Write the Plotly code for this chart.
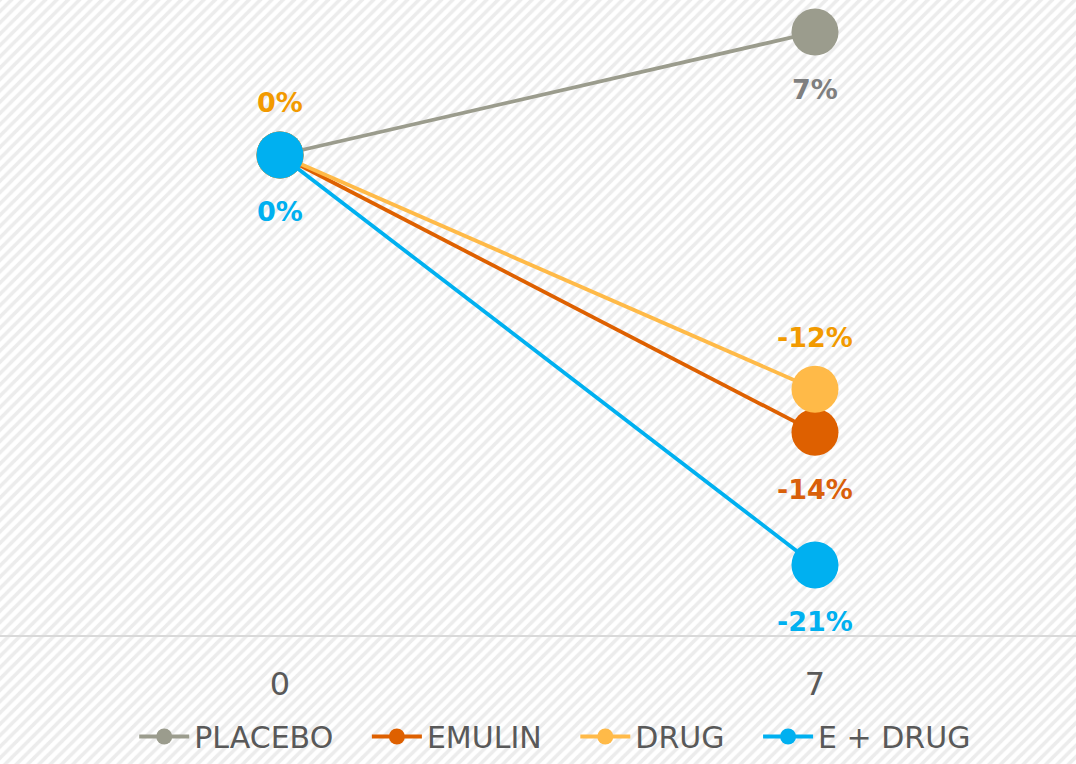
import plotly.graph_objects as go

categories = ["0", "7"]
series_names = ["PLACEBO", "EMULIN", "DRUG", "E + DRUG"]
placebo = [0.0, 0.063]
emulin = [0.0, -0.142]
drug = [0.0, -0.12]
e_drug = [0.0, -0.21]
placebo_labels = ["", "7%"]
emulin_labels = ["", "-14%"]
drug_labels = ["0%", "-12%"]
e_drug_labels = ["0%", "-21%"]

values = [placebo, emulin, drug, e_drug]
labels = [placebo_labels, emulin_labels, drug_labels, e_drug_labels]
line_colors = ["#9B9C8D", "#DE6000", "#FFBA48", "#00B0F0"]
label_colors = ["#7F7F7F", "#D9600A", "#F29A00", "#00B0F0"]
# label above (+) or below (-) per series, per point
label_side = [[-1, -1], [-1, -1], [1, 1], [-1, -1]]

NBSP = "\u00a0"

fig = go.Figure()

# hatched background covering the whole page
fig.add_trace(go.Scatter(
    x=[0, 1, 1, 0, 0], y=[0, 0, 1, 1, 0], mode="lines", fill="toself",
    line=dict(width=0, color="rgba(0,0,0,0)"),
    fillcolor="white",
    fillpattern=dict(shape="/", fgcolor="#D9D9D9", bgcolor="white", size=8, solidity=0.45),
    xaxis="x", yaxis="y", showlegend=False, hoverinfo="skip"))

for i, (name, vals, col) in enumerate(zip(series_names, values, line_colors)):
    pad = NBSP * 3 if i < len(series_names) - 1 else ""
    fig.add_trace(go.Scatter(
        x=categories, y=vals, name=name + pad, mode="lines+markers",
        line=dict(color=col, width=3.8),
        marker=dict(color=col, size=47, line=dict(width=0)),
        xaxis="x2", yaxis="y2"))

annotations = []
for vals, labs, lc, sides in zip(values, labels, label_colors, label_side):
    for ci, (v, t, s) in enumerate(zip(vals, labs, sides)):
        if t:
            annotations.append(dict(
                x=ci, y=v, xref="x2", yref="y2", text="<b>%s</b>" % t,
                showarrow=False, yshift=(52 if s > 0 else -57),
                font=dict(family="DejaVu Sans", size=27, color=lc)))

fig.update_layout(
    width=1076, height=764,
    margin=dict(l=0, r=0, t=0, b=0),
    paper_bgcolor="white", plot_bgcolor="rgba(0,0,0,0)",
    font=dict(family="DejaVu Sans", color="#595959"),
    xaxis=dict(domain=[0, 1], range=[0, 1], visible=False, fixedrange=True),
    yaxis=dict(domain=[0, 1], range=[0, 1], visible=False, fixedrange=True),
    xaxis2=dict(domain=[0, 1], anchor="y2", type="category",
                range=[-0.5234, 1.4879], showgrid=False, zeroline=False,
                showline=True, linecolor="#D9D9D9", linewidth=1.5,
                ticks="", ticklabelstandoff=20,
                tickfont=dict(family="DejaVu Sans", size=32, color="#595959")),
    yaxis2=dict(domain=[129 / 764, 1], anchor="x2", range=[-0.2459, 0.0794],
                visible=False),
    annotations=annotations,
    legend=dict(orientation="h", x=0.516, xanchor="center", y=0.036, yanchor="middle",
                font=dict(family="DejaVu Sans", size=30, color="#595959"),
                bgcolor="rgba(0,0,0,0)", itemwidth=50),
    showlegend=True,
)

fig.write_html("out.html", config={"displayModeBar": False},
               post_script="document.body.style.margin='0';window.dispatchEvent(new Event('resize'));")
